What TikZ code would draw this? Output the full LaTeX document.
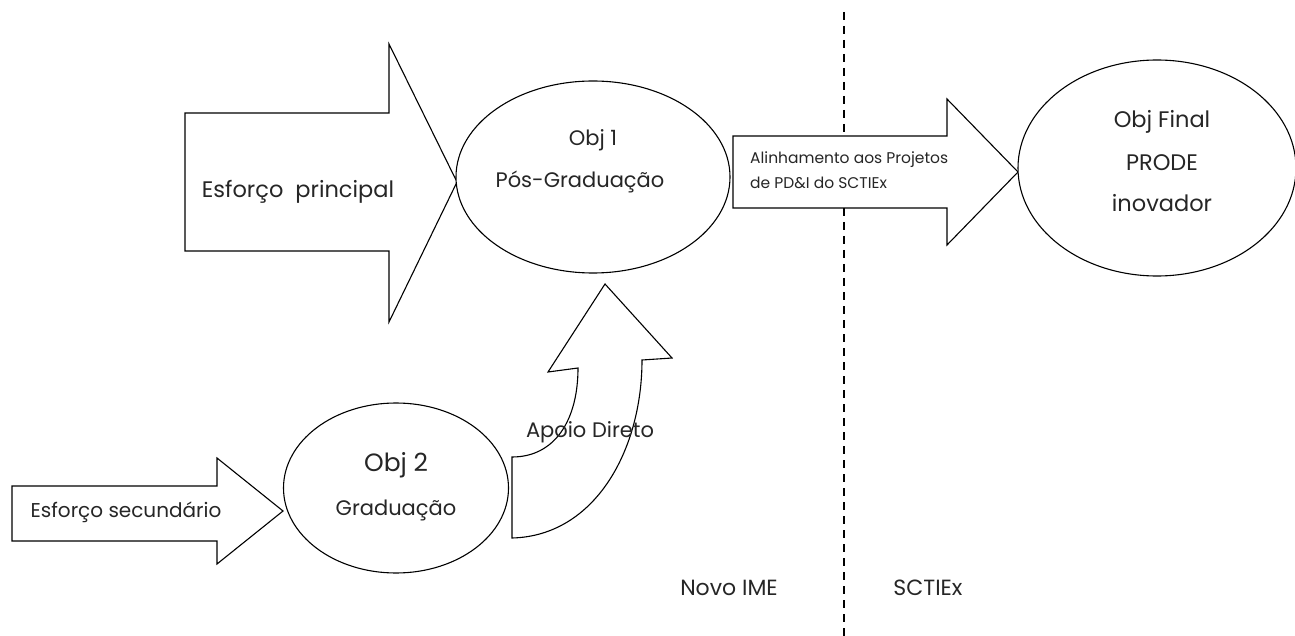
\documentclass[tikz,border=0pt]{standalone}
\usepackage{fontspec}
\setmainfont{Poppins}
\usetikzlibrary{shapes.geometric}
\begin{document}
\begin{tikzpicture}[x=1pt,y=-1pt,
  shape line/.style={draw=black,line width=1.1pt,fill=white,line join=miter},
  objell/.style={ellipse,draw=black,line width=1.1pt,fill=white,inner sep=0pt},
  lbl/.style={inner sep=0pt,align=center,text=black!85}]
\useasboundingbox (0,0) rectangle (1295,636);
% divider
\draw[line width=1.1pt,dash pattern=on 8pt off 6pt] (844,12) coordinate (dtop) -- (844,636) coordinate (dbot);
% main effort arrow
\draw[shape line] (185,113) -- (389,113) -- (389,44) -- (457,182) -- (389,322) -- (389,251) -- (185,251) -- cycle;
\node[lbl,font=\fontsize{22.5}{26}\selectfont] (esfp) at (298,192) {Esforço\ \ principal};
% alignment arrow
\draw[shape line] (733,136) -- (947,136) -- (947,99) -- (1018,172) -- (947,245) -- (947,208) -- (733,208) -- cycle;
\node[lbl,font=\fontsize{15.5}{25}\selectfont,align=left,anchor=west] (alin) at (750,170) {Alinhamento aos Projetos\\de PD\&I do SCTIEx};
% secondary effort arrow
\draw[shape line] (12,486) -- (217,486) -- (217,458) -- (283,511) -- (217,564) -- (217,541) -- (12,541) -- cycle;
\node[lbl,font=\fontsize{20}{24}\selectfont] (esfs) at (126,512) {Esforço secundário};
% curved support arrow
\draw[shape line] (512,457) -- (512,538) .. controls (595,536) and (642,450) .. (642,360)
  -- (672,358) -- (605,284) -- (548,372) -- (578,368)
  .. controls (578,420) and (555,457) .. (512,457) -- cycle;
\node[lbl,font=\fontsize{21}{24}\selectfont] (apoio) at (590,432) {Apoio Direto};
% objectives
\node[objell,minimum width=274pt,minimum height=192pt] (obj1) at (593,177) {};
\node[lbl,font=\fontsize{21}{24}\selectfont] at (593,140) {Obj 1};
\node[lbl,font=\fontsize{21}{24}\selectfont] at (580,182) {Pós-Graduação};
\node[objell,minimum width=278pt,minimum height=216pt] (objf) at (1157,168) {};
\node[lbl,font=\fontsize{22.5}{26}\selectfont] at (1162,122) {Obj Final};
\node[lbl,font=\fontsize{22.5}{26}\selectfont] at (1162,163) {PRODE};
\node[lbl,font=\fontsize{22.5}{26}\selectfont] at (1162,203) {inovador};
\node[objell,minimum width=225pt,minimum height=170pt] (obj2) at (396,488) {};
\node[lbl,font=\fontsize{25}{28}\selectfont] at (396,465) {Obj 2};
\node[lbl,font=\fontsize{21}{24}\selectfont] at (396,510) {Graduação};
% region labels
\node[lbl,font=\fontsize{22}{26}\selectfont] (novo) at (729,588) {Novo IME};
\node[lbl,font=\fontsize{22}{26}\selectfont] (sct) at (928,588) {SCTIEx};
\end{tikzpicture}
\end{document}
